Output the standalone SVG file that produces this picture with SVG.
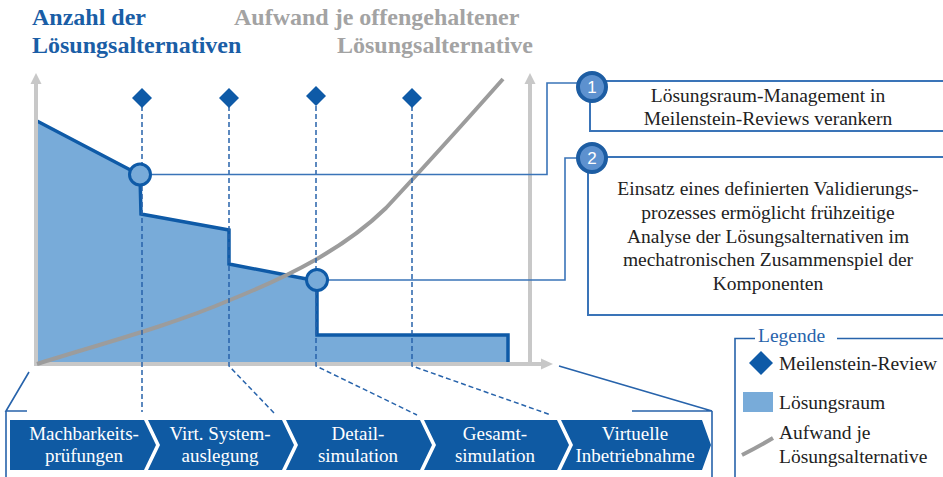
<svg xmlns="http://www.w3.org/2000/svg" width="943" height="477" viewBox="0 0 943 477">
<style>
.serif{font-family:"Liberation Serif","Times New Roman",serif}
.t{font-family:"Liberation Serif","Times New Roman",serif;font-size:19.5px;fill:#222}
.tc{text-anchor:middle}
.ttl{font-family:"Liberation Serif","Times New Roman",serif;font-size:24px;font-weight:bold}
.axis{stroke:#C8C8C8;stroke-width:4;fill:none}
.axh{fill:#C8C8C8}
.dash{stroke:#2763AB;stroke-width:1.5;stroke-dasharray:5 3;fill:none}
.conn{stroke:#3A74B8;stroke-width:1.6;fill:none}
.box{stroke:#3A74B8;stroke-width:2;fill:none}
.dia{fill:#0E5AA7}
.chev{fill:#0F5AA3}
.ct{font-family:"Liberation Serif","Times New Roman",serif;font-size:19px;fill:#fff;text-anchor:middle}
.pc{fill:#5D91CF;stroke:#1D5DA3;stroke-width:4}
.pn{font-family:"Liberation Sans",Arial,sans-serif;font-size:17px;fill:#fff;text-anchor:middle}
.brk{stroke:#2763AB;stroke-width:1.6;fill:none}
</style>

<g id="titles">
<text class="ttl" x="32" y="25" fill="#1A5EA6">Anzahl der</text>
<text class="ttl" x="32" y="53" fill="#1A5EA6">Lösungsalternativen</text>
<text class="ttl" x="234" y="25" fill="#A3A3A3">Aufwand je offengehaltener</text>
<text class="ttl" x="337" y="53" fill="#A3A3A3">Lösungsalternative</text>
</g>

<g id="chart">
<polygon points="37,121 140,175 141,214 229,230 229,264 317,281 317,335 508,335 508,364 37,364" fill="#78ABD9"/>
<polyline points="37,121 140,175 141,214 229,230 229,264 317,281 317,335 508,335 508,364" fill="none" stroke="#0E5AA7" stroke-width="3.5"/>
<line class="axis" x1="36" y1="366" x2="36" y2="82"/>
<polygon class="axh" points="36,73 30.5,84 41.5,84"/>
<line class="axis" x1="530" y1="364" x2="530" y2="82"/>
<polygon class="axh" points="530,73 524.5,84 535.5,84"/>
<line class="axis" x1="34" y1="364" x2="542" y2="364"/>
<polygon class="axh" points="553,364 541,358.5 541,369.5"/>
<path d="M37,364 C90,347 170,326 230,300 C290,276 345,248 386,208 Q440,150 503,79" fill="none" stroke="#9C9C9C" stroke-width="4"/>
</g>

<g id="connectors">
<path class="dash" d="M142,106 V412"/>
<path class="dash" d="M229,106 V366 L275,414"/>
<path class="dash" d="M316,106 V366 L417,415"/>
<path class="dash" d="M412,106 V366 L551,415"/>
<path class="conn" d="M151,174.5 H547 V83 H577"/>
<path class="conn" d="M328,280 H565 V158 H577"/>
<path class="brk" d="M29,372 L6,411 H27 M6,411 V477"/>
<path class="brk" d="M559,366 L712,411 H632 M712,411 V477"/>
</g>

<g id="milestones">
<polygon class="dia" points="142,88 152,98 142,108 132,98"/>
<polygon class="dia" points="229,88 239,98 229,108 219,98"/>
<polygon class="dia" points="316,86 326,96 316,106 306,96"/>
<polygon class="dia" points="412,88 422,98 412,108 402,98"/>
</g>

<g id="markers">
<circle cx="140" cy="174.5" r="10.5" fill="#78ABD9" stroke="#0E5AA7" stroke-width="3"/>
<circle cx="317" cy="280" r="10.5" fill="#78ABD9" stroke="#0E5AA7" stroke-width="3"/>
</g>

<g id="note1">
<path class="box" d="M604,81 H943 M590,101 V131 H943"/>
<circle class="pc" cx="592" cy="87" r="14"/>
<text class="pn" x="592" y="93">1</text>
<text class="t tc" x="768" y="102">Lösungsraum-Management in</text>
<text class="t tc" x="768" y="125">Meilenstein-Reviews verankern</text>
</g>

<g id="note2">
<path class="box" d="M604,157 H943 M588,172 V315 H943"/>
<circle class="pc" cx="592" cy="158" r="14"/>
<text class="pn" x="592" y="164">2</text>
<text class="t tc" x="768" y="195">Einsatz eines definierten Validierungs-</text>
<text class="t tc" x="768" y="219">prozesses ermöglicht frühzeitige</text>
<text class="t tc" x="768" y="243">Analyse der Lösungsalternativen im</text>
<text class="t tc" x="768" y="266">mechatronischen Zusammenspiel der</text>
<text class="t tc" x="768" y="290">Komponenten</text>
</g>

<g id="phases">
<g id="phase1">
<polygon class="chev" points="10,420 144,420 156,445 144,470 10,470"/>
<text class="ct" x="84" y="440">Machbarkeits-</text>
<text class="ct" x="84" y="462">prüfungen</text>
</g>
<g id="phase2">
<polygon class="chev" points="148,420 282,420 294,445 282,470 148,470 160,445"/>
<text class="ct" x="220" y="440">Virt. System-</text>
<text class="ct" x="220" y="462">auslegung</text>
</g>
<g id="phase3">
<polygon class="chev" points="286,420 420,420 432,445 420,470 286,470 298,445"/>
<text class="ct" x="358" y="440">Detail-</text>
<text class="ct" x="358" y="462">simulation</text>
</g>
<g id="phase4">
<polygon class="chev" points="424,420 557,420 569,445 557,470 424,470 436,445"/>
<text class="ct" x="495" y="440">Gesamt-</text>
<text class="ct" x="495" y="462">simulation</text>
</g>
<g id="phase5">
<polygon class="chev" points="561,420 702,420 711,445 702,470 561,470 573,445"/>
<text class="ct" x="635" y="440">Virtuelle</text>
<text class="ct" x="635" y="462">Inbetriebnahme</text>
</g>
</g>

<g id="legend">
<path class="brk" d="M755,338.5 H735 V477 M837,338.5 H943"/>
<text class="serif" x="758" y="342" font-size="19.5" fill="#2763AB">Legende</text>
<polygon class="dia" points="761,351 773,363 761,375 749,363"/>
<text class="t" x="779" y="370">Meilenstein-Review</text>
<rect x="743" y="392" width="30" height="20" fill="#78ABD9"/>
<text class="t" x="779" y="409">Lösungsraum</text>
<path d="M742,455 Q758,447 773,438" fill="none" stroke="#9C9C9C" stroke-width="4"/>
<text class="t" x="779" y="439">Aufwand je</text>
<text class="t" x="779" y="463">Lösungsalternative</text>
</g>
</svg>
